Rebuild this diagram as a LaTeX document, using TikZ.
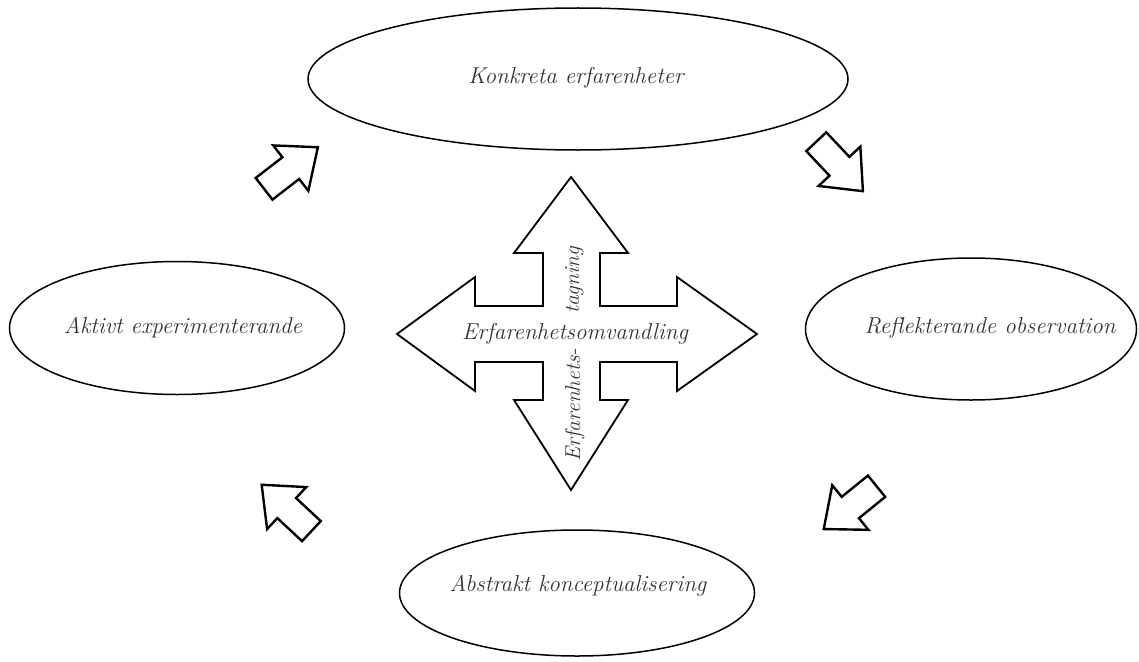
\documentclass[tikz,border=0pt]{standalone}
\usepackage{tikz}
\usetikzlibrary{positioning,shapes.geometric,shapes.arrows}

\begin{document}
\begin{tikzpicture}[
                  x=1pt,y=-1pt,
                  font=\fontsize{23}{27}\selectfont\itshape,
                  txt/.style={text=black!80,inner sep=0pt},
                  stage/.style={draw,ellipse,line width=1.5pt,inner sep=0pt},
                  turn/.style={draw,single arrow,line width=2.4pt,inner xsep=0pt,inner ysep=12.5pt,minimum height=68pt,minimum width=55pt,
                               single arrow head extend=15pt,single arrow tip angle=80,single arrow head indent=0pt},
                  cross/.style={draw,line width=1.8pt,line join=miter}
                ]
                \useasboundingbox (0,0) rectangle (1139,661);
                \node[stage,minimum width=540pt,minimum height=142pt] (konk) at (578,79) {};
                \node[stage,minimum width=331pt,minimum height=142pt] (refl) at (971,329) {};
                \node[stage,minimum width=355pt,minimum height=126pt] (abst) at (577,593) {};
                \node[stage,minimum width=335pt,minimum height=133pt] (akt) at (177,328) {};
                \node[txt] (konkt) at (576,78) {Konkreta erfarenheter};
                \node[txt] (reflt) at (990,328) {Reflekterande observation};
                \node[txt] (abstt) at (578,586) {Abstrakt konceptualisering};
                \node[txt] (aktt) at (183,328) {Aktivt experimenterande};
                
                \node[turn,rotate=37.7] (t1) at (284.5,173) {};
                \node[turn,rotate=-46.7] (t2) at (834,160.5) {};
                \node[turn,rotate=-141] (t3) at (856.5,502.5) {};
                \node[turn,rotate=137] (t4) at (292.5,513.5) {};
                
                \draw[cross] (571,177) -- (628,253) -- (600,253) -- (600,306) -- (677,306) -- (677,277) -- (757,334)
                  -- (677,391) -- (677,362) -- (600,362) -- (600,400) -- (628,400) -- (571,490) -- (514,400)
                  -- (543,400) -- (543,362) -- (475,362) -- (475,391) -- (397,334) -- (475,277) -- (475,306)
                  -- (543,306) -- (543,253) -- (514,253) -- cycle;
                \node[txt] (omv) at (575,334) {Erfarenhetsomvandling};
                \node[txt,font=\fontsize{21.5}{25}\selectfont\itshape,rotate=90,anchor=base west] (tag1) at (580,462) {Erfarenhets-};
                \node[txt,font=\fontsize{21.5}{25}\selectfont\itshape,rotate=90,anchor=base west] (tag2) at (579,314) {tagning};
                \end{tikzpicture}
\end{document}
